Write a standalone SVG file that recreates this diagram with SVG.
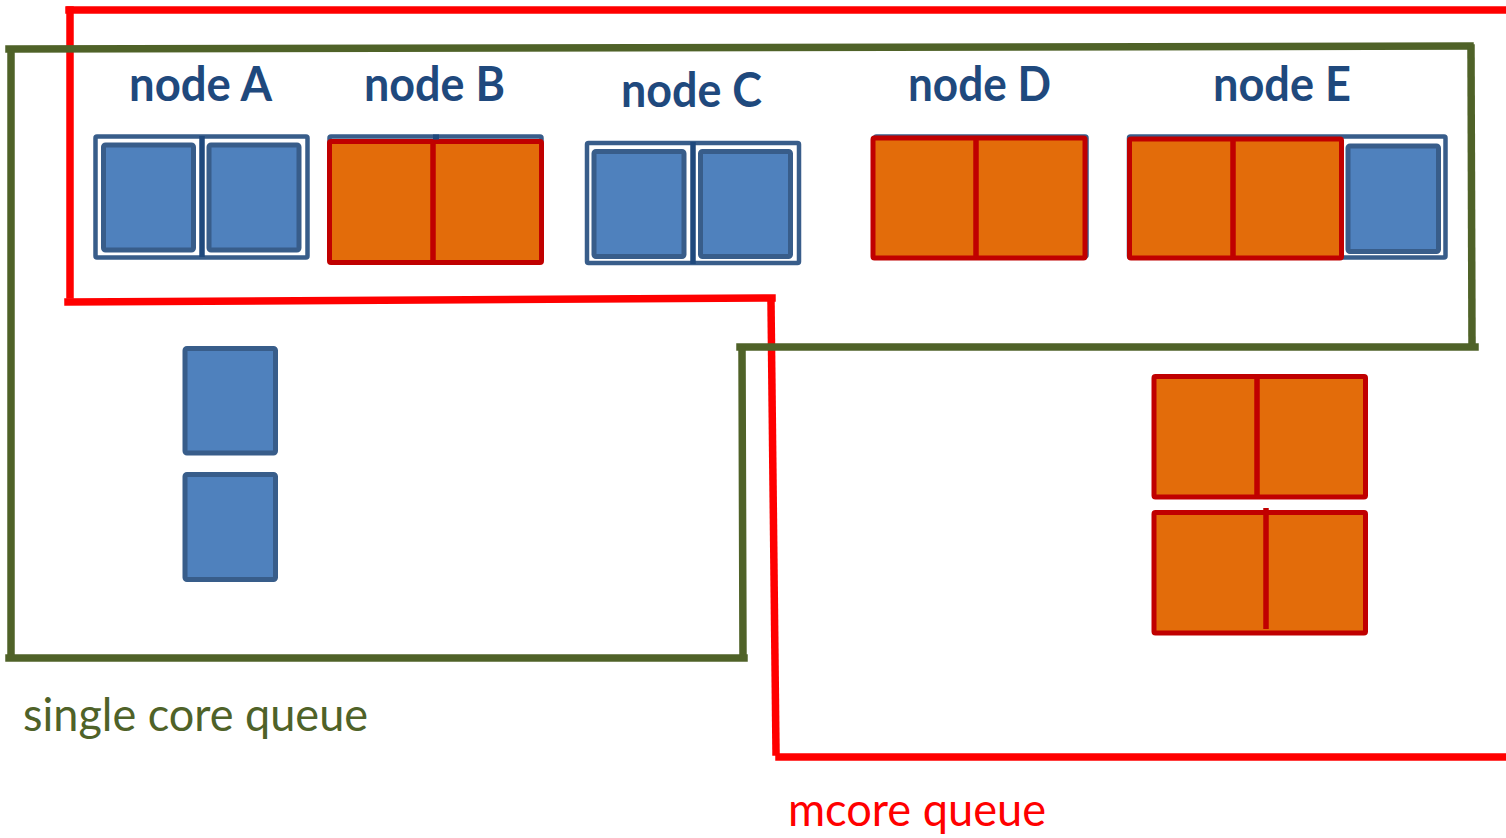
<svg xmlns="http://www.w3.org/2000/svg" width="1506" height="838" viewBox="0 0 1506 838">
  <style>
    .bg { fill: #ffffff; }
    .host { fill: none; stroke: #385D8A; stroke-width: 4.5; }
    .core { fill: #4F81BD; stroke: #385D8A; stroke-width: 5; }
    .split { stroke: #1F497D; stroke-width: 5.5; }
    .job { fill: #E36C0A; stroke: #C00000; stroke-width: 5; }
    .jobsplit { stroke: #C00000; stroke-width: 5.5; }
    .label { font-family: Lato, "Open Sans", "Liberation Sans", sans-serif; font-weight: 700; font-size: 47px; fill: #1F497D; }
    .qlabel { font-family: Lato, "Open Sans", "Liberation Sans", sans-serif; font-weight: 400; font-size: 46px; }
    .single { fill: none; stroke: #4F6228; stroke-width: 7.5; stroke-linecap: square; }
    .mcore { fill: none; stroke: #FF0000; stroke-width: 7.5; stroke-linecap: square; }
  </style>

  <rect class="bg" x="0" y="0" width="1506" height="838"/>

  <!-- queue boundaries -->
  <g id="connectors">
    <!-- mcore queue (red) -->
    <line class="mcore" x1="69" y1="10" x2="1506" y2="10"/>
    <line class="mcore" x1="70" y1="10" x2="70" y2="295"/>
    <line class="mcore" x1="68" y1="302" x2="772" y2="298"/>
    <line class="mcore" x1="771" y1="302" x2="776" y2="752"/>
    <line class="mcore" x1="779" y1="757" x2="1506" y2="757"/>
    <!-- single core queue (green) -->
    <line class="single" x1="9" y1="49" x2="1470" y2="46"/>
    <line class="single" x1="11" y1="54" x2="11" y2="657"/>
    <line class="single" x1="1471" y1="48" x2="1472" y2="344"/>
    <line class="single" x1="740" y1="347" x2="1475" y2="347"/>
    <line class="single" x1="742" y1="350" x2="743" y2="655"/>
    <line class="single" x1="9" y1="658" x2="744" y2="658"/>
  </g>

  <!-- node A: two free single cores -->
  <g id="nodeA">
    <text class="label" x="129" y="101" textLength="143" lengthAdjust="spacingAndGlyphs">node A</text>
    <rect class="host" x="95.5" y="136.5" width="212" height="121" rx="1.5"/>
    <rect class="core" x="103.5" y="145" width="90" height="105" rx="2"/>
    <rect class="core" x="209" y="145" width="90" height="105" rx="2"/>
    <line class="split" x1="202" y1="136" x2="202" y2="257"/>
  </g>

  <!-- node B: one multicore job -->
  <g id="nodeB">
    <text class="label" x="364" y="101" textLength="141" lengthAdjust="spacingAndGlyphs">node B</text>
    <rect class="host" x="329.5" y="136.5" width="212" height="120" rx="1.5"/>
    <rect class="job" x="329.5" y="141.5" width="212" height="121" rx="1.5"/>
    <line class="jobsplit" x1="433" y1="141" x2="433" y2="262"/>
    <rect x="433" y="134.5" width="6" height="5" fill="#1F497D"/>
  </g>

  <!-- node C: two free single cores -->
  <g id="nodeC">
    <text class="label" x="621" y="107" textLength="141" lengthAdjust="spacingAndGlyphs">node C</text>
    <rect class="host" x="587" y="143" width="212" height="120" rx="1.5"/>
    <rect class="core" x="594" y="151.5" width="90" height="105" rx="2"/>
    <rect class="core" x="700.5" y="151.5" width="90" height="105" rx="2"/>
    <line class="split" x1="693" y1="142" x2="693" y2="264"/>
  </g>

  <!-- node D: one multicore job -->
  <g id="nodeD">
    <text class="label" x="908" y="101" textLength="143" lengthAdjust="spacingAndGlyphs">node D</text>
    <rect class="host" x="875" y="136.5" width="211.5" height="120" rx="1.5"/>
    <rect class="job" x="873" y="138" width="212" height="120" rx="1.5"/>
    <line class="jobsplit" x1="976" y1="138" x2="976" y2="258"/>
  </g>

  <!-- node E: one multicore job plus one free core -->
  <g id="nodeE">
    <text class="label" x="1213" y="101" textLength="138" lengthAdjust="spacingAndGlyphs">node E</text>
    <rect class="host" x="1129" y="136.5" width="316.5" height="121" rx="1.5"/>
    <rect class="job" x="1129.5" y="139" width="212" height="119" rx="1.5"/>
    <line class="jobsplit" x1="1233" y1="139" x2="1233" y2="258"/>
    <rect class="core" x="1348" y="146" width="90.5" height="105.5" rx="2"/>
  </g>

  <!-- jobs waiting in the single core queue -->
  <g id="singleJobs">
    <rect class="core" x="185" y="348.5" width="90.5" height="104.5" rx="2"/>
    <rect class="core" x="185" y="474.5" width="90.5" height="105" rx="2"/>
  </g>

  <!-- jobs waiting in the mcore queue -->
  <g id="mcoreJobs">
    <rect class="job" x="1154" y="376.5" width="211.5" height="120.5" rx="1.5"/>
    <line class="jobsplit" x1="1257" y1="377" x2="1257" y2="497"/>
    <rect class="job" x="1154" y="512.5" width="211.5" height="120.5" rx="1.5"/>
    <line class="jobsplit" x1="1266" y1="508" x2="1266" y2="629"/>
  </g>

  <!-- queue captions -->
  <g id="singleQueueLabel">
    <text class="qlabel" x="23" y="731" fill="#4F6228" textLength="345" lengthAdjust="spacingAndGlyphs">single core queue</text>
  </g>
  <g id="mcoreQueueLabel">
    <text class="qlabel" x="788" y="826" fill="#FF0000" textLength="258" lengthAdjust="spacingAndGlyphs">mcore queue</text>
  </g>
</svg>
